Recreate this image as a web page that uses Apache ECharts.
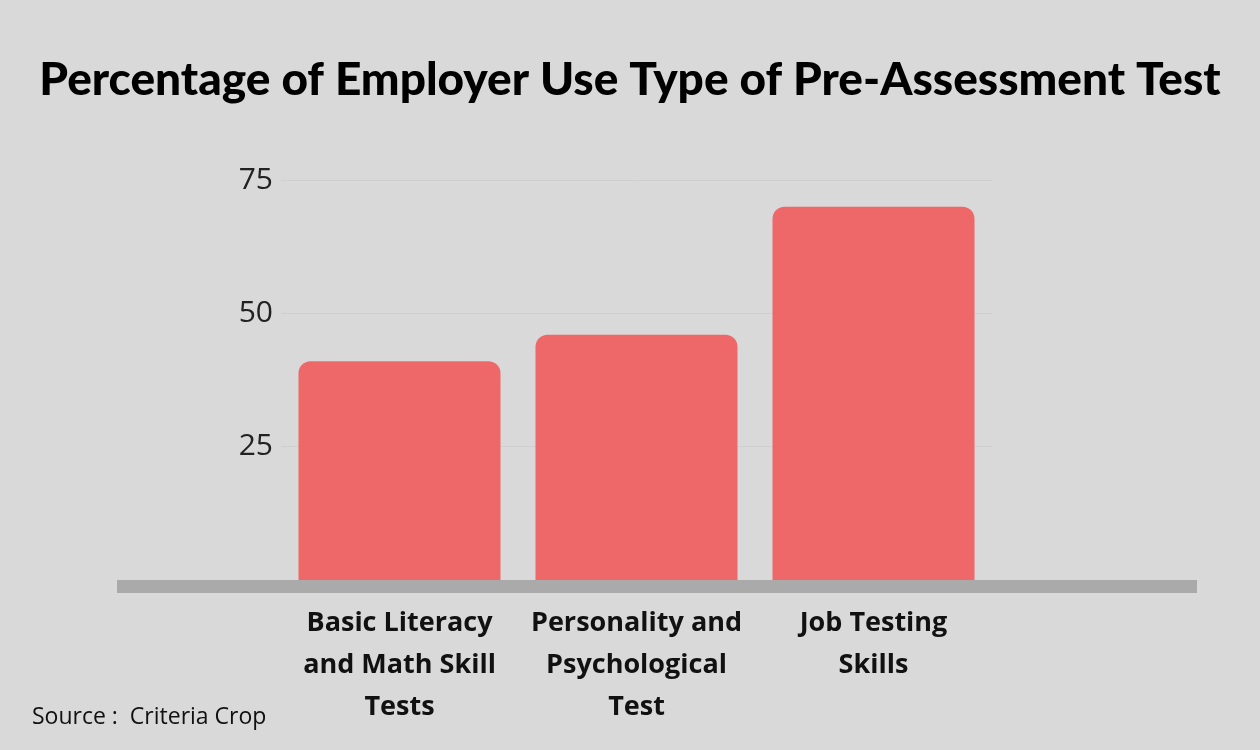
<!DOCTYPE html>
<html><head><meta charset="utf-8">
<script src="https://cdn.jsdelivr.net/npm/echarts@6/dist/echarts.min.js"></script>
<style>html,body{margin:0;background:#d9d9d9}#c{width:1260px;height:750px}</style>
</head><body><div id="c"></div>
<script>
const categories = ['Basic Literacy\nand Math Skill\nTests', 'Personality and\nPsychological\nTest', 'Job Testing\nSkills'];
const values = [41, 46, 70];
const yTicks = [0, 25, 50, 75];
const chart = echarts.init(document.getElementById('c'));
chart.setOption({
  backgroundColor: '#d9d9d9',
  title: {text: 'Percentage of Employer Use Type of Pre-Assessment Test', left: 'center', top: 52,
    textStyle: {fontFamily: 'Lato', fontWeight: 900, fontSize: 46, color: '#000'}},
  graphic: [
    {type: 'rect', shape: {x: 117, y: 580, width: 1080, height: 13}, style: {fill: '#aaaaaa'}, z: 10},
    {type: 'text', left: 32, top: 706, style: {text: 'Source :  Criteria Crop', font: '23px "Open Sans"', fill: '#111'}}
  ],
  grid: {left: 281, right: 268, top: 180, bottom: 170},
  xAxis: {type: 'category', data: categories, axisLine: {show: false}, axisTick: {show: false},
    axisLabel: {interval: 0, margin: 22, fontFamily: 'Open Sans', fontWeight: 'bold', fontSize: 27, lineHeight: 42, color: '#111'}},
  yAxis: {type: 'value', min: 0, max: 75, interval: 25,
    splitLine: {lineStyle: {color: '#cfcfcf'}},
    axisLabel: {fontFamily: 'Open Sans', fontSize: 30, color: '#222', margin: 8,
      formatter: v => yTicks.includes(v) && v !== 0 ? String(v) : ''}},
  series: [{type: 'bar', data: values, barWidth: 202, itemStyle: {color: '#ef6869', borderRadius: [12, 12, 0, 0]}}]
});
</script></body></html>
